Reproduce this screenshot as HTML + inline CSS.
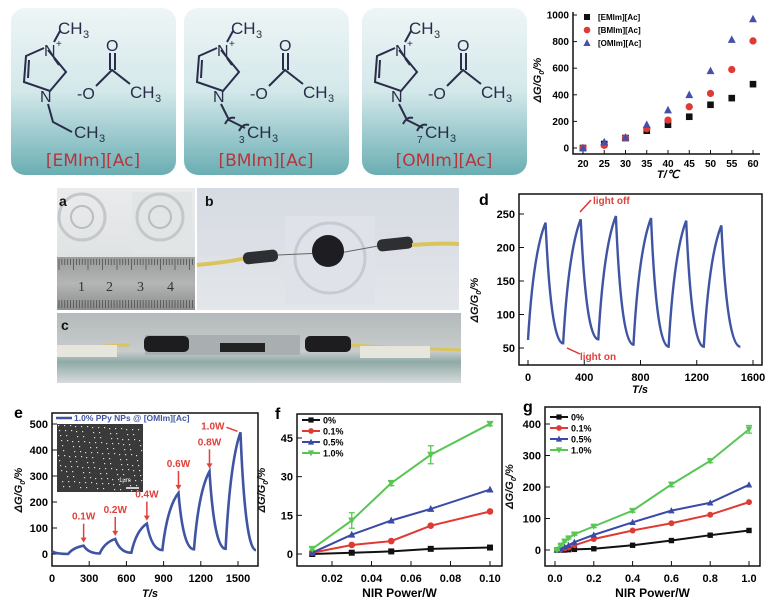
<!DOCTYPE html>
<html><head><meta charset="utf-8"><style>
html,body{margin:0;padding:0;background:#fff}
svg{display:block;font-family:"Liberation Sans",sans-serif}
</style></head><body>
<svg id="fig" width="773" height="608" viewBox="0 0 773 608" xmlns="http://www.w3.org/2000/svg">
<defs>
<linearGradient id="tealg" x1="0" y1="0" x2="0" y2="1">
<stop offset="0" stop-color="#eef5f6"/><stop offset="0.5" stop-color="#d3e8ea"/><stop offset="1" stop-color="#6aaeb3"/></linearGradient>
<linearGradient id="photoA" x1="0" y1="0" x2="0" y2="1"><stop offset="0" stop-color="#e9ebec"/><stop offset="1" stop-color="#d9dcde"/></linearGradient>
<linearGradient id="ruler" x1="0" y1="0" x2="0" y2="1"><stop offset="0" stop-color="#9a9c9c"/><stop offset="0.5" stop-color="#b4b6b5"/><stop offset="1" stop-color="#8c8e8e"/></linearGradient>
<linearGradient id="photoB" x1="0" y1="0" x2="0" y2="1"><stop offset="0" stop-color="#d6dae2"/><stop offset="1" stop-color="#e3e6ea"/></linearGradient>
<linearGradient id="photoC" x1="0" y1="0" x2="0" y2="1"><stop offset="0" stop-color="#b4b9bb"/><stop offset="0.55" stop-color="#c8cccd"/><stop offset="0.7" stop-color="#8faaa6"/><stop offset="1" stop-color="#d8dbdc"/></linearGradient>
</defs>

<g id="structs"></g>

<g>
<rect x="57" y="188" width="138" height="122" fill="url(#photoA)"/>
<circle cx="82" cy="217" r="23" fill="none" stroke="#c4c8ca" stroke-width="3"/>
<circle cx="82" cy="217" r="11" fill="none" stroke="#b9bdbf" stroke-width="2"/>
<rect x="132" y="192" width="60" height="62" fill="#e2e5e6"/>
<circle cx="160" cy="217" r="23" fill="none" stroke="#c4c8ca" stroke-width="3"/>
<circle cx="160" cy="217" r="11" fill="none" stroke="#b9bdbf" stroke-width="2"/>
<rect x="57" y="257" width="138" height="53" fill="url(#ruler)"/>
<g stroke="#444" stroke-width="0.7" id="rulerTicks"></g>
<text x="78" y="291" font-family="Liberation Serif" font-size="14" fill="#333">1</text>
<text x="106" y="291" font-family="Liberation Serif" font-size="14" fill="#333">2</text>
<text x="137" y="291" font-family="Liberation Serif" font-size="14" fill="#333">3</text>
<text x="167" y="291" font-family="Liberation Serif" font-size="14" fill="#333">4</text>
<text x="59" y="206" font-size="14" font-weight="bold" fill="#111">a</text>
</g>
<g>
<rect x="197" y="188" width="262" height="122" fill="url(#photoB)"/>
<rect x="285" y="216" width="90" height="88" fill="#dfe2e8"/>
<circle cx="330" cy="258" r="35" fill="none" stroke="#c7cbd1" stroke-width="3"/>
<path d="M197 265 Q230 262 245 258" stroke="#d9c45e" stroke-width="4" fill="none"/>
<rect x="243" y="251" width="35" height="12" rx="5" fill="#2d2f33" transform="rotate(-6 260 257)"/>
<line x1="278" y1="255" x2="345" y2="252" stroke="#666" stroke-width="1"/>
<line x1="345" y1="252" x2="378" y2="246" stroke="#666" stroke-width="1"/>
<circle cx="328" cy="251" r="16" fill="#1e1e22"/>
<rect x="377" y="238" width="36" height="12" rx="5" fill="#2d2f33" transform="rotate(-6 395 244)"/>
<path d="M412 245 Q440 243 459 244" stroke="#d9c45e" stroke-width="4" fill="none"/>
<text x="205" y="206" font-size="14" font-weight="bold" fill="#111">b</text>
</g>
<g>
<rect x="57" y="313" width="404" height="70" fill="url(#photoC)"/>
<path d="M57 352 Q100 345 130 345" stroke="#d9c45e" stroke-width="3" fill="none"/>
<path d="M350 345 Q400 348 461 350" stroke="#d9c45e" stroke-width="3" fill="none"/>
<rect x="57" y="345" width="60" height="12" fill="#e6e6dc"/>
<rect x="360" y="346" width="70" height="12" fill="#e6e6dc"/>
<rect x="145" y="335" width="155" height="20" fill="#a9aeb1"/>
<rect x="144" y="336" width="45" height="16" rx="5" fill="#1d1d1f"/>
<rect x="305" y="336" width="46" height="16" rx="5" fill="#1d1d1f"/>
<rect x="220" y="343" width="45" height="9" fill="#222"/>
<text x="61" y="330" font-size="14" font-weight="bold" fill="#111">c</text>
</g>

<g id="charts"></g>
</svg>

<script>
// ===== data: top-right temperature chart =====
const tTemps = [20,25,30,35,40,45,50,55,60];
const tEMIm = [0,30,75,130,175,235,325,375,480];
const tBMIm = [0,20,75,145,210,310,410,590,805];
const tOMIm = [0,45,80,175,285,400,580,815,970];
const tXTicks = [20,25,30,35,40,45,50,55,60];
const tYTicks = [0,200,400,600,800,1000];
const tNames = ["[EMIm][Ac]","[BMIm][Ac]","[OMIm][Ac]"];

// ===== data: panel d cycles (extrema) =====
const dTimes = [0,125,250,375,500,625,750,875,1000,1125,1250,1375,1510];
const dValues = [62,237,57,242,63,247,55,244,52,240,52,233,52];
const dXTicks = [0,400,800,1200,1600];
const dYTicks = [50,100,150,200,250];

// ===== data: panel e =====
const eTimes = [0,130,255,385,510,640,765,890,1020,1145,1270,1400,1520,1645];
const eValues = [10,0,32,2,58,5,117,15,235,18,318,20,468,15];
const ePowers = ["0.1W","0.2W","0.4W","0.6W","0.8W","1.0W"];
const eXTicks = [0,300,600,900,1200,1500];
const eYTicks = [0,100,200,300,400,500];

// ===== data: panel f =====
const fPower = [0.01,0.03,0.05,0.07,0.10];
const f0 = [0,0.5,1,2,2.5];
const f01 = [0.5,3.5,5,11,16.5];
const f05 = [0.5,7.5,13,17.5,25];
const f10 = [2,13,27.5,38.5,50.5];
const f10Err = [0.5,3,1,3.5,0.8];
const fXTicks = [0.02,0.04,0.06,0.08,0.10];
const fYTicks = [0,15,30,45];

// ===== data: panel g =====
const gPower = [0.01,0.03,0.05,0.07,0.1,0.2,0.4,0.6,0.8,1.0];
const g0 = [0,0,0,1,2,4,15,30,47,62];
const g01 = [0,2,5,8,15,35,62,85,112,152];
const g05 = [0,5,10,15,25,48,88,125,150,207];
const g10 = [0,15,28,38,50,75,125,208,283,383];
const g10Err = [2,3,3,3,3,4,5,7,6,12];
const gXTicks = [0.0,0.2,0.4,0.6,0.8,1.0];
const gYTicks = [0,100,200,300,400];
const concNames = ["0%","0.1%","0.5%","1.0%"];

const NS = "http://www.w3.org/2000/svg";
const C = {k:"#111",r:"#e03a35",b:"#3b4aa6",g:"#57c653",line:"#3f55a3"};
function mk(tag, attrs, parent, txt){
  const e = document.createElementNS(NS, tag);
  for (const k in attrs) e.setAttribute(k, attrs[k]);
  if (txt !== undefined) e.textContent = txt;
  parent.appendChild(e);
  return e;
}
function scale(d0,d1,r0,r1){return v => r0 + (v-d0)/(d1-d0)*(r1-r0);}
function marker(shape, x, y, s, col, parent){
  let e;
  if (shape==="sq") e = mk("rect",{x:x-s,y:y-s,width:2*s,height:2*s,fill:col},parent);
  else if (shape==="ci") e = mk("circle",{cx:x,cy:y,r:s*1.1,fill:col},parent);
  else if (shape==="up") e = mk("polygon",{points:`${x},${y-s*1.3} ${x-s*1.2},${y+s} ${x+s*1.2},${y+s}`,fill:col},parent);
  else e = mk("polygon",{points:`${x},${y+s*1.3} ${x-s*1.2},${y-s} ${x+s*1.2},${y-s}`,fill:col},parent);
  return e;
}
function ylabel(parent, x, y, fs){
  const t = mk("text",{x:0,y:0,transform:`translate(${x},${y}) rotate(-90)`,"text-anchor":"middle","font-size":fs,"font-weight":"bold","font-style":"italic",fill:"#111"},parent,"ΔG/G");
  mk("tspan",{"font-size":fs*0.7,dy:3},t,"0");
  mk("tspan",{dy:-3},t,"/%");
  return t;
}
const charts = document.getElementById("charts");

// ----- structures -----
(function(){
  const S = document.getElementById("structs");
  const offs = [0,173,351];
  const labels = ["[EMIm][Ac]","[BMIm][Ac]","[OMIm][Ac]"];
  const subs = ["","3","7"];
  for (let i=0;i<3;i++){
    const g = mk("g",{transform:`translate(${offs[i]},0)`},S);
    
    
    mk("rect",{x:11,y:8,width:165,height:167,rx:14,fill:"url(#tealg)"},g);
    const st = {stroke:"#2a2d4a","stroke-width":2,fill:"none"};
    mk("polyline",Object.assign({points:"48,50 66,72 50,91 24,82 26,56 44,48"},st),g);
    mk("line",Object.assign({x1:29,y1:60,x2:28,y2:78},st),g);
    mk("line",Object.assign({x1:59,y1:65,x2:54,y2:58},st),g);
    mk("line",Object.assign({x1:54,y1:42,x2:60,y2:31},st),g);
    mk("text",{x:44,y:56,"font-size":16,fill:"#2a2d4a"},g,"N");
    mk("text",{x:56,y:47,"font-size":10,fill:"#2a2d4a"},g,"+");
    mk("text",{x:40,y:102,"font-size":16,fill:"#2a2d4a"},g,"N");
    mk("text",{x:58,y:34,"font-size":17,fill:"#2a2d4a"},g,"CH");
    mk("text",{x:83,y:38,"font-size":11,fill:"#2a2d4a"},g,"3");
    if (i===0){
      mk("polyline",Object.assign({points:"48,104 53,122 72,132"},st),g);
    } else {
      mk("polyline",Object.assign({points:"48,104 56,120 72,128"},st),g);
      mk("path",Object.assign({d:"M52,124 q4,-8 10,-6 M66,131 q4,-8 10,-6"},st),g);
      mk("text",{x:66,y:143,"font-size":10,fill:"#2a2d4a"},g,subs[i]);
    }
    mk("text",{x:74,y:138,"font-size":17,fill:"#2a2d4a"},g,"CH");
    mk("text",{x:99,y:142,"font-size":11,fill:"#2a2d4a"},g,"3");
    mk("text",{x:77,y:99,"font-size":16,fill:"#2a2d4a"},g,"-O");
    mk("polyline",Object.assign({points:"96,86 112,70 130,84"},st),g);
    mk("line",Object.assign({x1:110,y1:70,x2:110,y2:53},st),g);
    mk("line",Object.assign({x1:115,y1:70,x2:115,y2:53},st),g);
    mk("text",{x:106,y:51,"font-size":16,fill:"#2a2d4a"},g,"O");
    mk("text",{x:130,y:98,"font-size":17,fill:"#2a2d4a"},g,"CH");
    mk("text",{x:155,y:102,"font-size":11,fill:"#2a2d4a"},g,"3");
    const lb = mk("text",{x:93,y:166,"text-anchor":"middle","font-size":17,fill:"#b8343b","font-family":"DejaVu Sans"},g,labels[i]);
    
    
  }
  const rt = document.getElementById("rulerTicks");
  for (let x=59;x<195;x+=2.9){
    mk("line",{x1:x,y1:259,x2:x,y2:(Math.round((x-59)/2.9)%5===0)?270:265},rt);
    mk("line",{x1:x,y1:308,x2:x,y2:300},rt);
  }
})();

// ----- top-right chart -----
(function(){
  const g = mk("g",{},charts);
  
  
  const X = scale(20,60,583,753), Y = scale(0,1000,148,15);
  mk("path",{d:"M573,12 V154 H760",stroke:"#111","stroke-width":1.5,fill:"none"},g);
  tXTicks.forEach(v=>{mk("line",{x1:X(v),y1:154,x2:X(v),y2:150,stroke:"#111"},g);
    mk("text",{x:X(v),y:167,"text-anchor":"middle","font-size":10,"font-weight":"bold"},g,v);});
  tYTicks.forEach(v=>{mk("line",{x1:573,y1:Y(v),x2:577,y2:Y(v),stroke:"#111"},g);
    mk("text",{x:569,y:Y(v)+3.5,"text-anchor":"end","font-size":10,"font-weight":"bold"},g,v);});
  mk("text",{x:668,y:178,"text-anchor":"middle","font-size":11,"font-weight":"bold","font-style":"italic"},g,"T/℃");
  ylabel(g,541,80,11);
  const series=[[tEMIm,"sq",C.k],[tBMIm,"ci",C.r],[tOMIm,"up","#4650a8"]];
  series.forEach((s,si)=>{
    s[0].forEach((v,i)=>{
      const m = marker(s[1],X(tTemps[i]),Y(v),3.3,s[2],g);
      
      
    });
    marker(s[1],587,17+si*13,3,s[2],g);
    mk("text",{x:598,y:20+si*13,"font-size":8,"font-weight":"bold"},g,tNames[si]);
  });
})();

// ----- panel d -----
(function(){
  const g = mk("g",{},charts);
  
  
  const X = scale(0,1600,528,753), Y = scale(50,250,348,214);
  mk("rect",{x:519,y:194,width:243,height:171,fill:"none",stroke:"#111","stroke-width":1.5},g);
  dXTicks.forEach(v=>{mk("line",{x1:X(v),y1:365,x2:X(v),y2:360,stroke:"#111"},g);
    mk("text",{x:X(v),y:381,"text-anchor":"middle","font-size":11,"font-weight":"bold"},g,v);});
  dYTicks.forEach(v=>{mk("line",{x1:519,y1:Y(v),x2:524,y2:Y(v),stroke:"#111"},g);
    mk("text",{x:515,y:Y(v)+4,"text-anchor":"end","font-size":11,"font-weight":"bold"},g,v);});
  mk("text",{x:640,y:393,"text-anchor":"middle","font-size":11,"font-weight":"bold","font-style":"italic"},g,"T/s");
  ylabel(g,478,300,11);
  mk("text",{x:479,y:205,"font-size":16,"font-weight":"bold"},g,"d");
  let d = `M${X(dTimes[0])},${Y(dValues[0])}`;
  for (let i=1;i<dTimes.length;i++){
    const x0=X(dTimes[i-1]),y0=Y(dValues[i-1]),x1=X(dTimes[i]),y1=Y(dValues[i]);
    const rising = dValues[i]>dValues[i-1];
    d += ` Q${x0+(x1-x0)*0.3},${rising? y1+(y0-y1)*0.25 : y1} ${x1},${y1}`;
  }
  const p = mk("path",{d:d,stroke:C.line,"stroke-width":2.4,fill:"none"},g);
  
  
  mk("line",{x1:591,y1:200,x2:580,y2:212,stroke:"#d33","stroke-width":1.5},g);
  mk("text",{x:593,y:204,"font-size":10,"font-weight":"bold",fill:"#e0413a"},g,"light off");
  mk("line",{x1:580,y1:354,x2:567,y2:348,stroke:"#d33","stroke-width":1.5},g);
  mk("text",{x:580,y:360,"font-size":10,"font-weight":"bold",fill:"#e0413a"},g,"light on");
})();

// ----- panel e -----
(function(){
  const g = mk("g",{},charts);
  
  
  const X = scale(0,1500,52,238), Y = scale(0,500,554,424);
  mk("rect",{x:52,y:413,width:206,height:153,fill:"none",stroke:"#111","stroke-width":1.5},g);
  eXTicks.forEach(v=>{mk("line",{x1:X(v),y1:566,x2:X(v),y2:561,stroke:"#111"},g);
    mk("text",{x:X(v),y:582,"text-anchor":"middle","font-size":11,"font-weight":"bold"},g,v);});
  eYTicks.forEach(v=>{mk("line",{x1:52,y1:Y(v),x2:57,y2:Y(v),stroke:"#111"},g);
    mk("text",{x:48,y:Y(v)+4,"text-anchor":"end","font-size":11,"font-weight":"bold"},g,v);});
  mk("text",{x:150,y:597,"text-anchor":"middle","font-size":11,"font-weight":"bold","font-style":"italic"},g,"T/s");
  ylabel(g,22,490,11);
  mk("text",{x:14,y:418,"font-size":16,"font-weight":"bold"},g,"e");
  mk("rect",{x:57,y:424,width:86,height:68,fill:"#3a3a3a"},g);
  for(let i=0;i<160;i++){ mk("rect",{x:58+((i*37)%84),y:425+((i*53)%66),width:1.2,height:1.2,fill:"#ddd"},g); }
  mk("text",{x:119,y:482,"font-size":6,fill:"#eee"},g,"1μm");
  mk("line",{x1:126,y1:488,x2:139,y2:488,stroke:"#fff","stroke-width":1.5},g);
  mk("line",{x1:56,y1:418,x2:72,y2:418,stroke:C.line,"stroke-width":2.5},g);
  mk("text",{x:74,y:421,"font-size":8.5,"font-weight":"bold",fill:"#3f55a3"},g,"1.0% PPy NPs @ [OMIm][Ac]");
  let d = `M${X(eTimes[0])},${Y(eValues[0])}`;
  for (let i=1;i<eTimes.length;i++){
    const x0=X(eTimes[i-1]),y0=Y(eValues[i-1]),x1=X(eTimes[i]),y1=Y(eValues[i]);
    const rising = eValues[i]>eValues[i-1];
    d += ` Q${x0+(x1-x0)*0.3},${rising? y1+(y0-y1)*0.25 : y1} ${x1},${y1}`;
  }
  const p = mk("path",{d:d,stroke:C.line,"stroke-width":2.6,fill:"none"},g);
  
  
  let k=0;
  for (let i=2;i<eTimes.length;i+=2){
    const x=X(eTimes[i]), y=Y(eValues[i]);
    if (k<5){
      mk("line",{x1:x,y1:y-22,x2:x,y2:y-5,stroke:"#e0413a","stroke-width":1.5},g);
      mk("polygon",{points:`${x-3},${y-8} ${x+3},${y-8} ${x},${y-3}`,fill:"#e0413a"},g);
      mk("text",{x:x,y:y-26,"text-anchor":"middle","font-size":10,"font-weight":"bold",fill:"#e0413a"},g,ePowers[k]);
    } else {
      mk("line",{x1:x-14,y1:y-5,x2:x-3,y2:y-1,stroke:"#e0413a","stroke-width":1.5},g);
      mk("text",{x:x-16,y:y-3,"text-anchor":"end","font-size":10,"font-weight":"bold",fill:"#e0413a"},g,ePowers[k]);
    }
    k++;
  }
})();

// ----- generic line chart (f,g) -----
function lineChart(name, box, xd, yd, xs, seriesList, err, xTicks, yTicks, fmt, letter, legendY, ms){
  const g = mk("g",{},charts);
  
  
  const X = scale(xd[0],xd[1],xd[2],xd[3]), Y = scale(yd[0],yd[1],yd[2],yd[3]);
  mk("rect",{x:box[0],y:box[1],width:box[2]-box[0],height:box[3]-box[1],fill:"none",stroke:"#111","stroke-width":1.5},g);
  xTicks.forEach(v=>{mk("line",{x1:X(v),y1:box[3],x2:X(v),y2:box[3]-5,stroke:"#111"},g);
    mk("text",{x:X(v),y:box[3]+16,"text-anchor":"middle","font-size":11,"font-weight":"bold"},g,fmt(v));});
  yTicks.forEach(v=>{mk("line",{x1:box[0],y1:Y(v),x2:box[0]+5,y2:Y(v),stroke:"#111"},g);
    mk("text",{x:box[0]-4,y:Y(v)+4,"text-anchor":"end","font-size":11,"font-weight":"bold"},g,v);});
  mk("text",{x:(box[0]+box[2])/2,y:box[3]+31,"text-anchor":"middle","font-size":12,"font-weight":"bold"},g,"NIR Power/W");
  ylabel(g,box[0]-32,(box[1]+box[3])/2,11);
  mk("text",{x:box[0]-22,y:box[1]+5,"font-size":16,"font-weight":"bold"},g,letter);
  const shapes=["sq","ci","up","dn"], cols=[C.k,C.r,C.b,C.g];
  seriesList.forEach((s,si)=>{
    const pts = s.map((v,i)=>`${X(xs[i])},${Y(v)}`).join(" ");
    const pl = mk("polyline",{points:pts,stroke:cols[si],"stroke-width":2,fill:"none"},g);
    
    
    s.forEach((v,i)=>{
      if (si===3){
        const e = err[i];
        mk("path",{d:`M${X(xs[i])},${Y(v+e)} V${Y(v-e)} M${X(xs[i])-3},${Y(v+e)} h6 M${X(xs[i])-3},${Y(v-e)} h6`,stroke:cols[si],"stroke-width":1.3,fill:"none"},g);
      }
      const m = marker(shapes[si],X(xs[i]),Y(v),ms,cols[si],g);
      
      
    });
    const ly = legendY + si*11;
    mk("line",{x1:box[0]+5,y1:ly,x2:box[0]+23,y2:ly,stroke:cols[si],"stroke-width":2},g);
    marker(shapes[si],box[0]+14,ly,2.6,cols[si],g);
    mk("text",{x:box[0]+26,y:ly+3.5,"font-size":9,"font-weight":"bold"},g,concNames[si]);
  });
}
lineChart("panel-f-chart",[297,414,502,566],[0.02,0.10,332,490],[0,45,554,438],fPower,[f0,f01,f05,f10],f10Err,fXTicks,fYTicks,v=>v.toFixed(2),"f",420,3);
lineChart("panel-g-chart",[545,407,760,566],[0,1,555,749],[0,400,550,424],gPower,[g0,g01,g05,g10],g10Err,gXTicks,gYTicks,v=>v.toFixed(1),"g",417,2.7);
</script>
</body></html>
